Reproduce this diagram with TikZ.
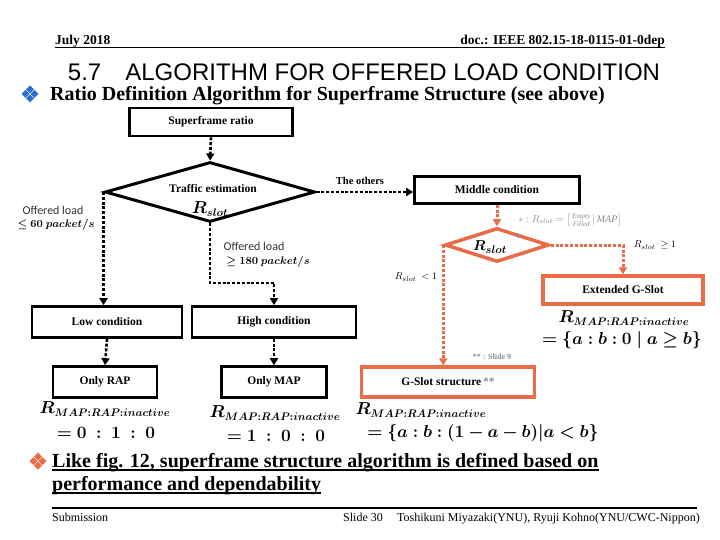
\documentclass[tikz,border=0pt]{standalone}
\usepackage{fontspec}
\usepackage{amsmath,bm}
\setmainfont{Liberation Serif}
\newfontfamily\arialf{Liberation Sans}
\newfontfamily\calib{Carlito}
\usetikzlibrary{shapes.geometric,arrows.meta}
\definecolor{org}{RGB}{232,108,72}
\definecolor{bluebul}{RGB}{45,115,205}
\definecolor{graytxt}{RGB}{140,140,140}
\begin{document}
\begin{tikzpicture}[x=1pt,y=-1pt,
  blk/.style={draw, line width=2.6pt, inner sep=0, font=\bfseries\fontsize{11.5}{13}\selectfont},
  oblk/.style={blk, draw=org, line width=3.2pt},
  flow/.style={line width=2.6pt, dash pattern=on 3pt off 1.8pt, -{Triangle[length=7pt,width=8pt]}},
  oflow/.style={flow, draw=org, line width=3pt},
  lbl/.style={inner sep=0, font=\bfseries\fontsize{10.5}{12}\selectfont},
  oload/.style={inner sep=0, font=\calib\fontsize{12}{14}\selectfont, text=black!80},
  bigR/.style={inner sep=0, font=\fontsize{16}{18}\selectfont},
  gtxt/.style={inner sep=0, text=graytxt}
]
\useasboundingbox (0,0) rectangle (720,540);
\fill[white] (0,0) rectangle (720,540);

% header
\node[anchor=base west, inner sep=0, font=\bfseries\fontsize{13.5}{15}\selectfont] (date) at (55,45) {July 2018};
\node[anchor=base east, inner sep=0, font=\bfseries\fontsize{13.5}{15}\selectfont] (doc) at (665,45) {doc.: IEEE 802.15-18-0115-01-0dep};
\draw[line width=1pt] (55,48) -- (665,48);

% title
\node[anchor=base, inner sep=0, font=\arialf\fontsize{24}{27}\selectfont] (title) at (364,81) {5.7\quad ALGORITHM FOR OFFERED LOAD CONDITION};

% bullet 1
\foreach \dx/\dy in {-4.5/0,4.5/0,0/-4.5,0/4.5}
  \fill[bluebul] ({30+\dx-4},{94+\dy}) -- ++(4,-4) -- ++(4,4) -- ++(-4,4) -- cycle;
\node[anchor=base west, inner sep=0, font=\bfseries\fontsize{20}{23}\selectfont] (sub) at (50,101) {Ratio Definition Algorithm for Superframe Structure (see above)};

% boxes
\node[blk, minimum width=163, minimum height=28] (sfr) at (211,122) {Superframe ratio};
\node[draw, diamond, line width=3pt, minimum width=210, minimum height=60, inner sep=0] (td) at (210,192) {};
\node[lbl, font=\bfseries\fontsize{11.5}{13}\selectfont] (tdt) at (213,189) {Traffic estimation};
\node[bigR] (tdr) at (210,209) {$\bm{R_{slot}}$};

\node[blk, minimum width=165, minimum height=27] (mid) at (497,190) {Middle condition};
\node[draw=org, diamond, line width=3.5pt, minimum width=104, minimum height=34, inner sep=0] (rd) at (497,245) {};
\node[bigR, font=\fontsize{15.5}{17}\selectfont] (rdr) at (490,247) {$\bm{R_{slot}}$};
\node[gtxt, font=\fontsize{14}{16}\selectfont] (rds) at (518,238) {*};

\node[oblk, minimum width=160, minimum height=28] (ext) at (623,290) {Extended G-Slot};
\node[oblk, minimum width=173, minimum height=30] (gs) at (448,382) {G-Slot structure\,\textcolor{graytxt}{**}};

\node[blk, minimum width=150, minimum height=31] (low) at (107,322) {Low condition};
\node[blk, minimum width=164, minimum height=31] (high) at (274,322) {High condition};
\node[blk, minimum width=104, minimum height=31] (rap) at (105,382) {Only RAP};
\node[blk, minimum width=105, minimum height=31] (map) at (274,382) {Only MAP};

% connectors
\coordinate (bend) at (210,283);
\coordinate (rbend) at (623,245);
\draw[flow] (sfr.south) -- (td.north);
\draw[flow] (td.west) -- (td.west |- low.north);
\draw[flow] (td.south) -- (bend) -| (high.north);
\draw[flow] (td.east) -- (td.east -| mid.west);
\draw[flow] (low.south) -- (rap.north);
\draw[flow] (high.south) -- (map.north);
\draw[oflow] (mid.south) -- (rd.north);
\draw[oflow] (rd.east) -- (rbend) -- (ext.north);
\draw[oflow] (rd.west) -- (rd.west |- gs.north);

% labels
\node[lbl] (oth) at (360,181) {The others};
\node[oload] (ol1) at (53,210) {Offered load};
\node[inner sep=0, font=\fontsize{11}{13}\selectfont] (ol1b) at (56,225) {$\bm{\leq 60\ packet/s}$};
\node[oload] (ol2) at (254,246) {Offered load};
\node[inner sep=0, font=\fontsize{11}{13}\selectfont] (ol2b) at (268,262) {$\bm{\geq 180\ packet/s}$};

\node[gtxt, font=\fontsize{10}{11}\selectfont] (note1) at (570,220) {$*: R_{slot}=\left[\begin{smallmatrix}\mathit{Empty}\\ \mathit{Filled}\end{smallmatrix}\middle|\,\mathit{MAP}\right]$};
\node[inner sep=0, font=\fontsize{10}{12}\selectfont] (cge) at (655,245) {$R_{slot}\ \geq 1$};
\node[inner sep=0, font=\fontsize{10}{12}\selectfont] (clt) at (416,277) {$R_{slot}\ < 1$};
\node[gtxt, font=\bfseries\fontsize{8}{9}\selectfont] (note2) at (492,357) {** : Slide 9};

% formulas
\node[bigR] (fe1) at (624,318) {$\bm{R_{MAP:RAP:inactive}}$};
\node[bigR] (fe2) at (622,340) {$\bm{=\{a:b:0\mid a\geq b\}}$};
\node[bigR] (fg1) at (421,410) {$\bm{R_{MAP:RAP:inactive}}$};
\node[bigR] (fg2) at (483,433) {$\bm{=\{a:b:(1-a-b)|a<b\}}$};
\node[bigR] (fr1) at (105,409) {$\bm{R_{MAP:RAP:inactive}}$};
\node[bigR] (fr2) at (106,433) {$\bm{=0\;:\;1\;:\;0}$};
\node[bigR] (fm1) at (275,413) {$\bm{R_{MAP:RAP:inactive}}$};
\node[bigR] (fm2) at (276,436) {$\bm{=1\;:\;0\;:\;0}$};

% bullet 2
\foreach \dx/\dy in {-4.5/0,4.5/0,0/-4.5,0/4.5}
  \fill[org] ({38+\dx-4},{461+\dy}) -- ++(4,-4) -- ++(4,4) -- ++(-4,4) -- cycle;
\node[anchor=base west, inner sep=0, font=\bfseries\fontsize{20}{23}\selectfont] (b1) at (52,467) {Like fig. 12, superframe structure algorithm is defined based on};
\draw[line width=1.3pt] (52,470) -- (b1.base east |- 0,470);
\node[anchor=base west, inner sep=0, font=\bfseries\fontsize{20}{23}\selectfont] (b2) at (52,490) {performance and dependability};
\draw[line width=1.3pt] (52,493) -- (b2.base east |- 0,493);

% footer
\draw[line width=1.5pt] (52,508) -- (697,508);
\node[anchor=base west, inner sep=0, font=\fontsize{12}{14}\selectfont] (subm) at (52,521) {Submission};
\node[anchor=base west, inner sep=0, font=\fontsize{12}{14}\selectfont] (slide) at (343,521) {Slide 30};
\node[anchor=base east, inner sep=0, font=\fontsize{12}{14}\selectfont] (auth) at (700,521) {Toshikuni Miyazaki(YNU), Ryuji Kohno(YNU/CWC-Nippon)};
\end{tikzpicture}
\end{document}
